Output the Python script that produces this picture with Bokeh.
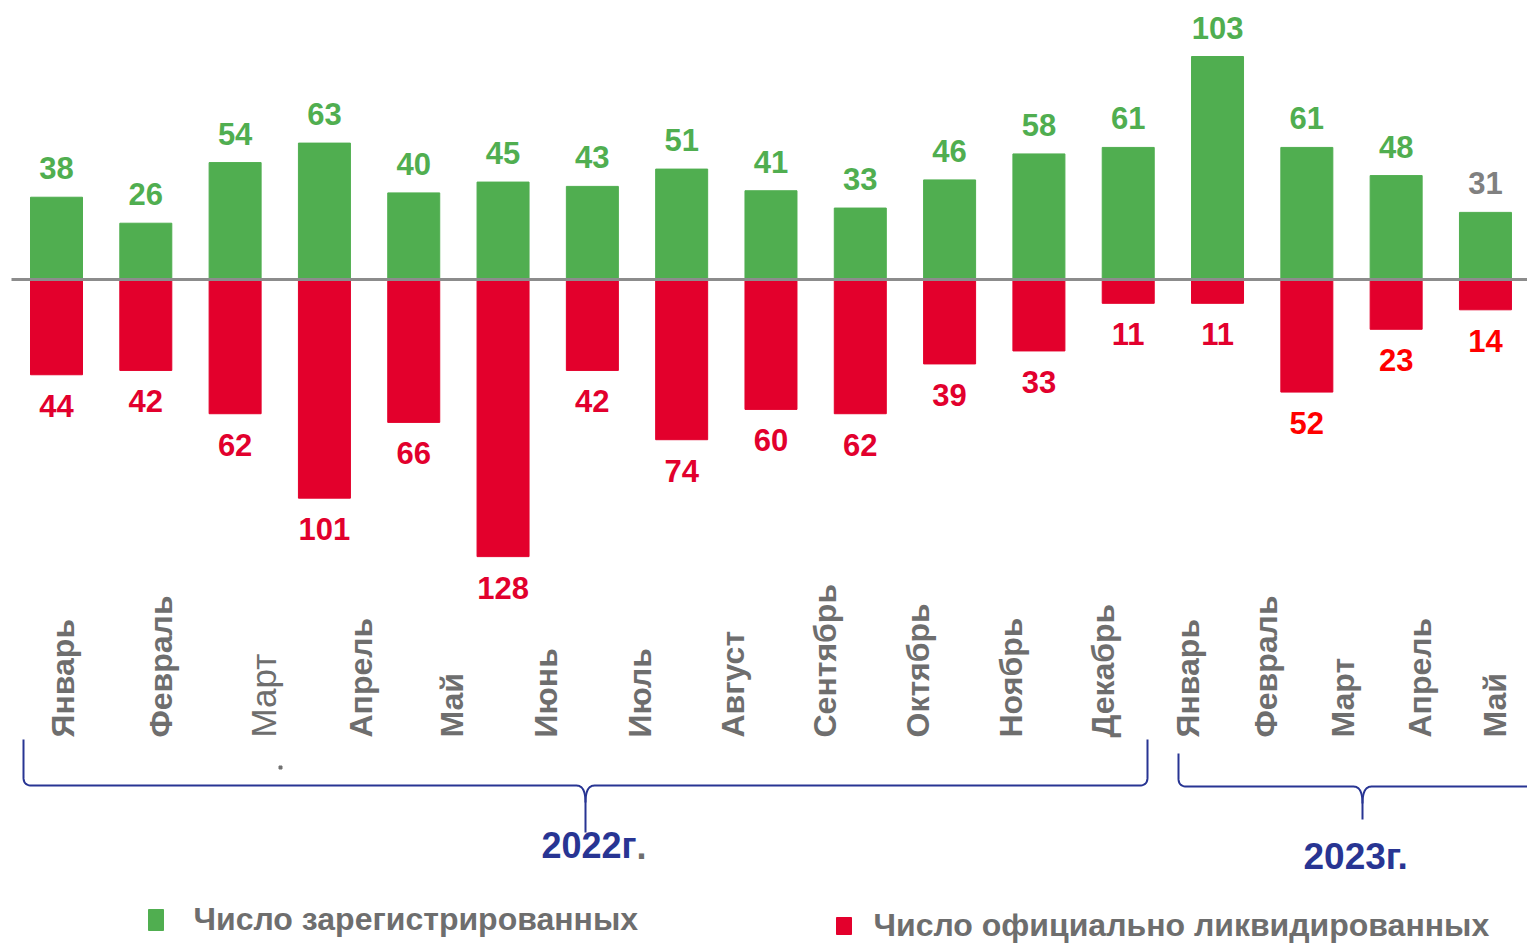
import numpy as np
from math import pi
from bokeh.plotting import figure
from bokeh.models import Range1d, ColumnDataSource
from bokeh.core.properties import value
from bokeh.embed import file_html
from bokeh.resources import INLINE

# ---------------- data ----------------
months = ["Январь", "Февраль", "Март", "Апрель", "Май", "Июнь", "Июль", "Август",
          "Сентябрь", "Октябрь", "Ноябрь", "Декабрь",
          "Январь", "Февраль", "Март", "Апрель", "Май"]
registered = [38, 26, 54, 63, 40, 45, 43, 51, 41, 33, 46, 58, 61, 103, 61, 48, 31]
liquidated = [44, 42, 62, 101, 66, 128, 42, 74, 60, 62, 39, 33, 11, 11, 52, 23, 14]
year_labels = ["2022г", "2023г."]
legend_labels = ["Число зарегистрированных", "Число официально ликвидированных"]

# ---------------- styles ----------------
GREEN = "#50AE50"
RED = "#E3002C"
NAVY = "#283593"
GRAY_TXT = "#6E6E6E"
FONT = "Liberation Sans"
reg_label_colors = [GREEN] * 16 + ["#808080"]
liq_label_colors = ["#E2002D"] * 14 + ["#FF0000"] * 3
month_styles = ["bold", "bold", "normal"] + ["bold"] * 14
month_sizes = ["32px", "32px", "35px"] + ["32px"] * 14

# ---------------- layout (reference pixel geometry) ----------------
W, H = 1527, 943
X0, DX = 56.0, 89.31      # first bar centre, bar pitch (px)
Y0, KY = 279.0, 2.165     # zero line (px), px per unit


def dx(rx):
    return (rx - X0) / DX


def dy(ry):
    return (Y0 - ry) / KY


p = figure(width=W, height=H, output_backend="svg", toolbar_location=None,
           x_axis_type=None, y_axis_type=None, min_border=0,
           x_range=Range1d(dx(0), dx(W)),
           y_range=Range1d(dy(H), dy(0)))
p.outline_line_color = None
p.grid.visible = False
p.background_fill_color = "white"
p.border_fill_color = "white"

idx = list(range(len(months)))
src = ColumnDataSource(dict(
    x=idx, reg=registered, liq=[-v for v in liquidated],
    reg_txt=[str(v) for v in registered], liq_txt=[str(v) for v in liquidated],
    reg_col=reg_label_colors, liq_col=liq_label_colors))

BW = 52 / DX
p.vbar(x="x", top="reg", bottom=0, width=BW, color=GREEN, source=src)
p.vbar(x="x", top=0, bottom="liq", width=BW, color=RED, source=src)

# zero line
p.segment(x0=[dx(11)], y0=[0], x1=[dx(1535)], y1=[0], line_color="#8C8C8C", line_width=3)

# value labels
p.text(x="x", y="reg", text="reg_txt", source=src, y_offset=-29,
       text_align="center", text_baseline="alphabetic",
       text_font=value(FONT), text_font_style="bold", text_font_size="31px",
       text_color="reg_col")
p.text(x="x", y="liq", text="liq_txt", source=src, y_offset=31,
       text_align="center", text_baseline="alphabetic",
       text_font=value(FONT), text_font_style="bold", text_font_size="31px",
       text_color="liq_col")

# month labels (rotated)
label_cx = [62, 160.5, 263, 360, 451.5, 545, 639, 732, 824, 917, 1010, 1102,
            1187, 1265, 1342, 1419, 1494]
msrc = ColumnDataSource(dict(x=[dx(c) for c in label_cx], y=[dy(737)] * len(months),
                             t=months, st=month_styles, sz=month_sizes))
p.text(x="x", y="y", text="t", source=msrc, angle=pi / 2,
       text_align="left", text_baseline="middle",
       text_font=value(FONT), text_font_style="st", text_font_size="sz",
       text_color=GRAY_TXT)
p.scatter(x=[dx(280)], y=[dy(767)], marker="square", size=3, color="#707070")


# brackets
def quad(p0, c, p1, n=12):
    t = np.linspace(0, 1, n)
    xs = (1 - t) ** 2 * p0[0] + 2 * (1 - t) * t * c[0] + t ** 2 * p1[0]
    ys = (1 - t) ** 2 * p0[1] + 2 * (1 - t) * t * c[1] + t ** 2 * p1[1]
    return list(xs), list(ys)


def brace(xl, ytl, xr, ytr, yh, xm, ybot, r=8, rn=9, dn=17):
    left_x, left_y = [xl], [ytl]
    a, b = quad((xl, yh - r), (xl, yh), (xl + r, yh))
    left_x += a; left_y += b
    a, b = quad((xm - rn, yh), (xm, yh), (xm, yh + dn))
    left_x += a; left_y += b
    left_x.append(xm); left_y.append(ybot)
    right_x, right_y = [], []
    a, b = quad((xm, yh + dn), (xm, yh), (xm + rn, yh))
    right_x += a; right_y += b
    a, b = quad((xr - r, yh), (xr, yh), (xr, yh - r))
    right_x += a; right_y += b
    right_x.append(xr); right_y.append(ytr)
    for xs, ys in ((left_x, left_y), (right_x, right_y)):
        p.line([dx(v) for v in xs], [dy(v) for v in ys], line_color=NAVY,
               line_width=2, line_join="round")


brace(23, 739, 1147, 739, 785, 585, 832)
brace(1178, 753, 1560, 786, 786, 1362, 819)

# year labels
p.text(x=[dx(636)], y=[dy(845)], text=[year_labels[0]], text_align="right",
       text_baseline="alphabetic", text_font=value(FONT), text_font_style="bold",
       text_font_size="36px", text_color=NAVY)
p.text(x=[dx(636)], y=[dy(845)], text=["."], text_align="left",
       text_baseline="alphabetic", text_font=value(FONT), text_font_style="bold",
       text_font_size="36px", text_color="#6E6E6E")
p.text(x=[dx(1303)], y=[dy(856)], text=[year_labels[1]], text_align="left",
       text_baseline="alphabetic", text_font=value(FONT), text_font_style="bold",
       text_font_size="37px", text_color=NAVY)

# legend
p.rect(x=[dx(155.5)], y=[dy(919.5)], width=15, height=21, width_units="screen",
       height_units="screen", color=GREEN)
p.rect(x=[dx(843.5)], y=[dy(925.5)], width=15, height=17, width_units="screen",
       height_units="screen", color=RED)
p.text(x=[dx(193)], y=[dy(918)], text=[legend_labels[0]], text_align="left",
       text_baseline="middle", text_font=value(FONT), text_font_style="bold",
       text_font_size="32px", text_color=GRAY_TXT)
p.text(x=[dx(873)], y=[dy(924)], text=[legend_labels[1]], text_align="left",
       text_baseline="middle", text_font=value(FONT), text_font_style="bold",
       text_font_size="32px", text_color=GRAY_TXT)

open("out.html", "w").write(file_html(p, INLINE))
